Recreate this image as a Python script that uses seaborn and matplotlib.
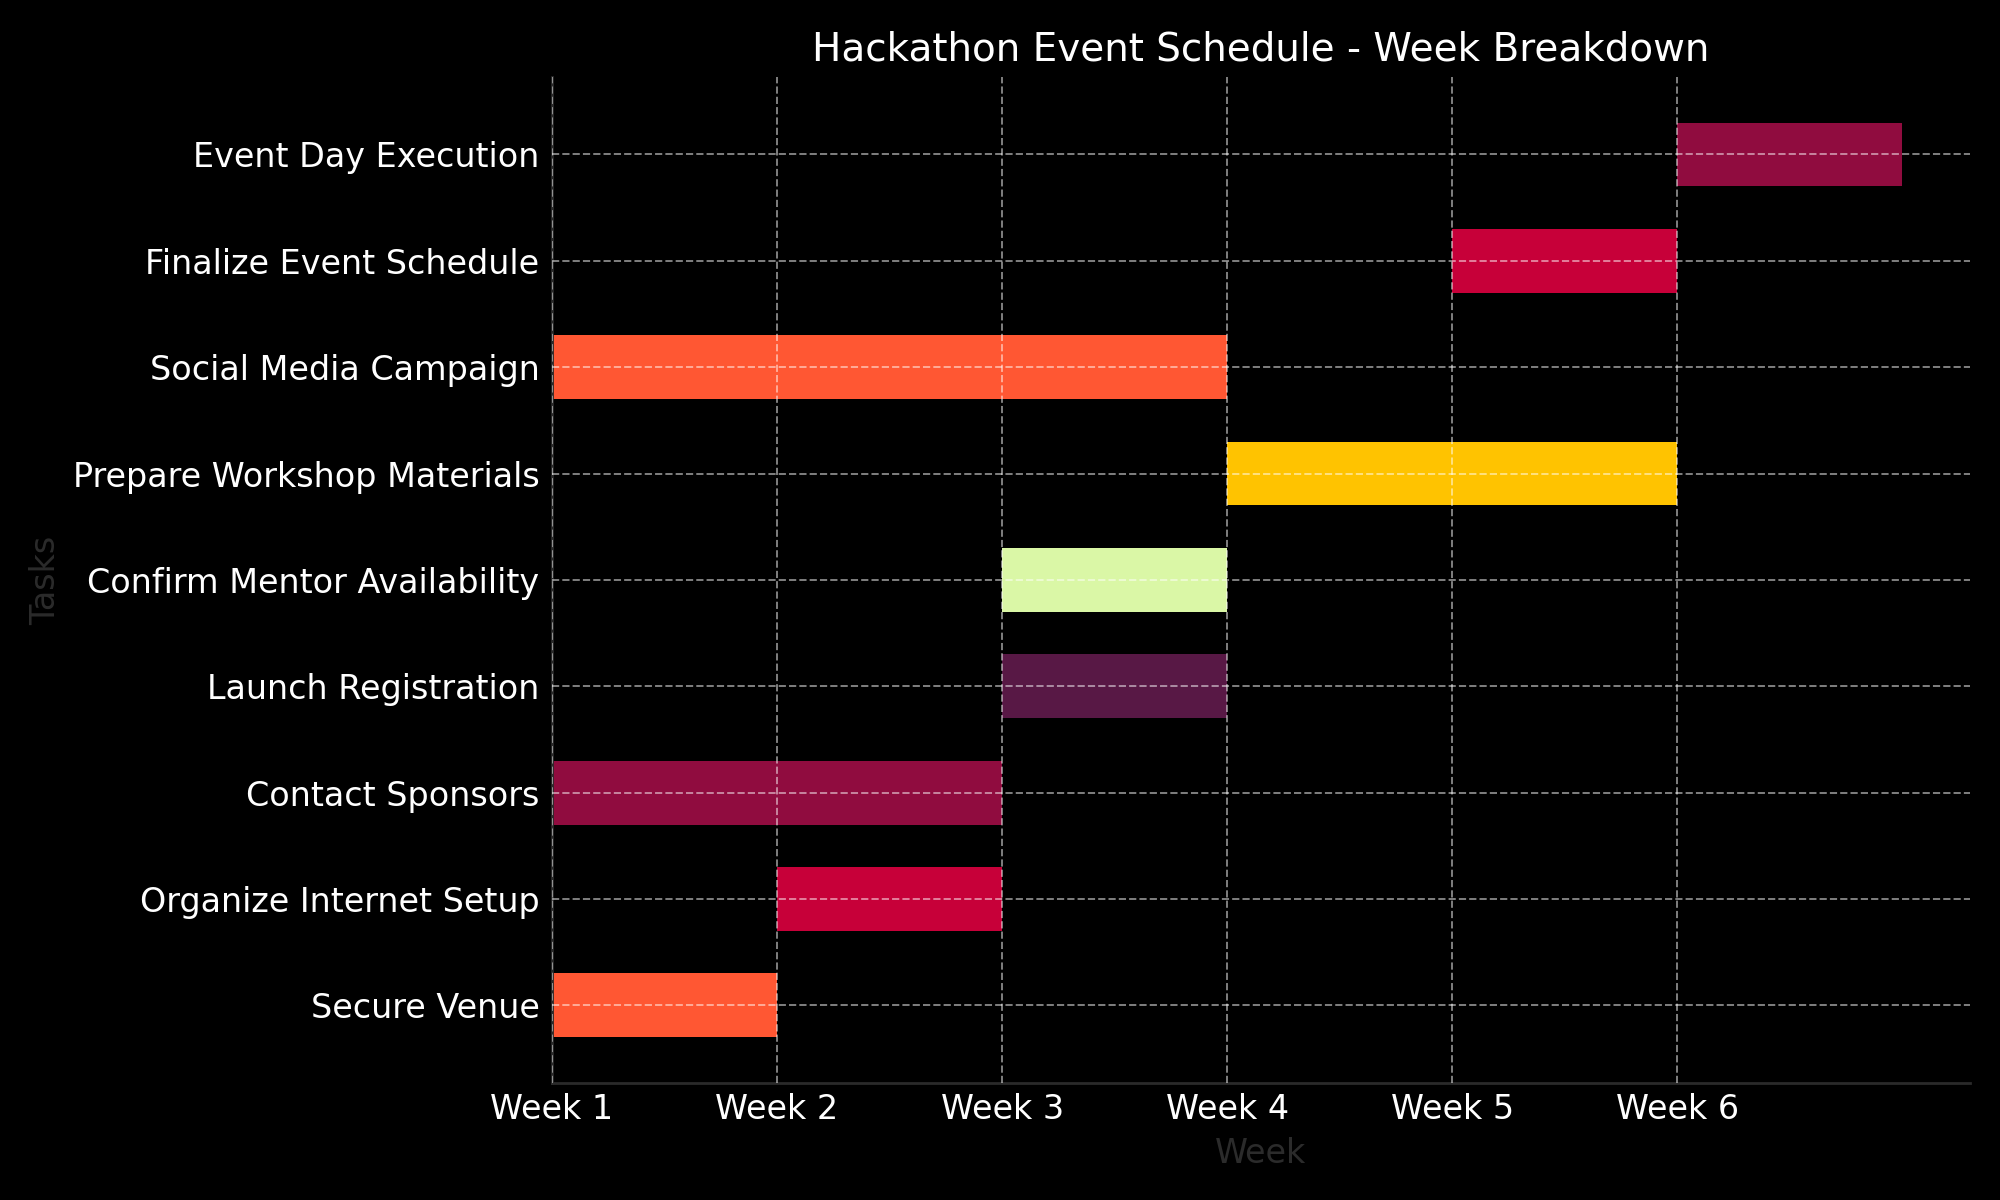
import numpy as np
import pandas as pd
import seaborn as sns
import matplotlib.pyplot as plt

tasks = ['Secure Venue', 'Organize Internet Setup', 'Contact Sponsors',
         'Launch Registration', 'Confirm Mentor Availability',
         'Prepare Workshop Materials', 'Social Media Campaign',
         'Finalize Event Schedule', 'Event Day Execution']
start_week = [1, 2, 1, 3, 3, 4, 1, 5, 6]
end_week = [2, 3, 3, 4, 4, 6, 4, 6, 7]
palette = ['#FF5733', '#C70039', '#900C3F', '#581845', '#DAF7A6', '#FFC300']
week_labels = ['Week 1', 'Week 2', 'Week 3', 'Week 4', 'Week 5', 'Week 6']

df = pd.DataFrame({'Task': tasks, 'Start': start_week, 'End': end_week})
df['Duration'] = df['End'] - df['Start']
df['Offset'] = df['Start'] - 1

sns.set_theme(style='dark')
plt.style.use('dark_background')
plt.rcParams['font.family'] = ['DejaVu Sans']

fig, ax = plt.subplots(figsize=(10, 6), dpi=200)
fig.patch.set_facecolor('black')
ax.set_facecolor('black')

colors = [palette[i % len(palette)] for i in range(len(df))]
ax.barh(np.arange(len(df)), df['Duration'], left=df['Offset'], height=0.6,
        color=colors, edgecolor='none')

ax.set_yticks(np.arange(len(df)))
ax.set_yticklabels(df['Task'], fontsize=12, color='white')
ax.set_xticks(np.arange(len(week_labels)))
ax.set_xticklabels(week_labels, fontsize=12, color='white')
ax.tick_params(axis='y', colors='#1a1a1a', labelcolor='white', direction='in',
               length=3.5, pad=4.5)
ax.tick_params(axis='x', colors='#1a1a1a', labelcolor='white', direction='in',
               length=0)

ax.set_xlabel('Week', fontsize=12, color='#2b2b2b')
ax.set_ylabel('Tasks', fontsize=12, color='#2b2b2b')
ax.set_title('Hackathon Event Schedule - Week Breakdown', fontsize=14, color='white')

ax.set_axisbelow(False)
ax.grid(True, linestyle='--', color='white', alpha=0.5, linewidth=0.7)
sns.despine(ax=ax)
for s in ['left', 'bottom']:
    ax.spines[s].set_color('#2a2a2a')
    ax.spines[s].set_linewidth(1.0)

fig.subplots_adjust(left=0.276, right=0.985, bottom=0.0975, top=0.936)
fig.savefig('out.png', dpi=200, facecolor='black')
